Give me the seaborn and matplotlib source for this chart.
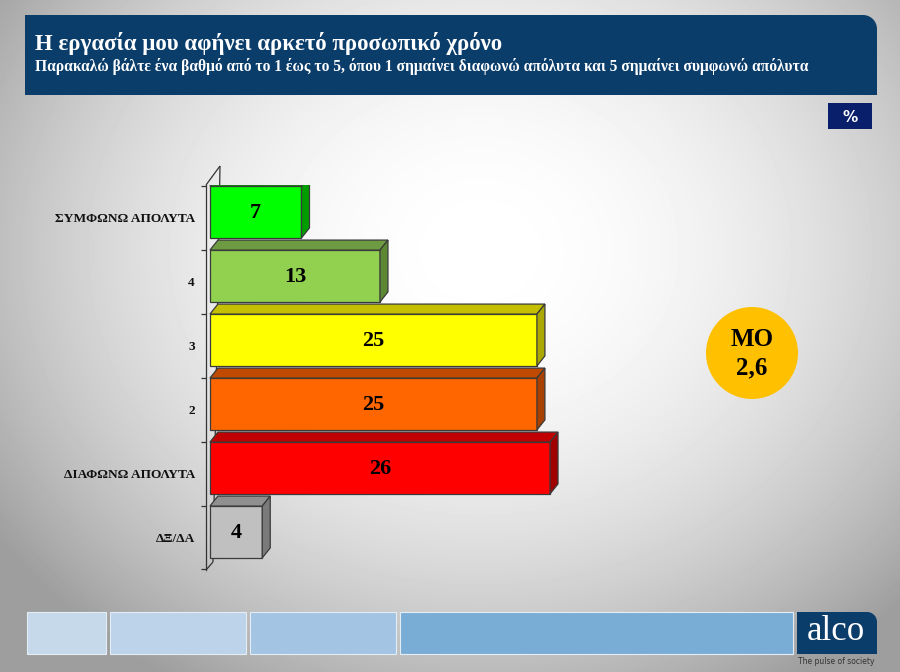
import numpy as np
import pandas as pd
import matplotlib
matplotlib.use("Agg")
import matplotlib.pyplot as plt
from matplotlib.patches import Polygon, Rectangle, Circle
from matplotlib.transforms import ScaledTranslation
import seaborn as sns

# ---------------- data ----------------
categories = ["ΣΥΜΦΩΝΩ ΑΠΟΛΥΤΑ", "4", "3", "2", "ΔΙΑΦΩΝΩ ΑΠΟΛΥΤΑ", "ΔΞ/ΔΑ"]
values = [7, 13, 25, 25, 26, 4]
front_colors = ["#00FF00", "#92D050", "#FFFF00", "#FF6600", "#FF0000", "#C0C0C0"]
top_colors = ["#00B800", "#6E9A42", "#C4C000", "#C04A00", "#C00000", "#909090"]
side_colors = ["#009C00", "#5C8733", "#ABA800", "#A84000", "#A00000", "#7A7A7A"]
title = "Η εργασία μου αφήνει αρκετό προσωπικό χρόνο"
subtitle = "Παρακαλώ βάλτε ένα βαθμό από το 1 έως το 5, όπου 1 σημαίνει διαφωνώ απόλυτα και 5 σημαίνει συμφωνώ απόλυτα"
mean_label = "ΜΟ\n2,6"
unit_label = "%"

sns.set_theme(style="white")
plt.rcParams["font.family"] = ["Liberation Serif", "DejaVu Serif"]
plt.rcParams["font.weight"] = "bold"

W, H = 900, 672
fig = plt.figure(figsize=(9, 6.72), dpi=100)

# ---------------- background (pixel coordinates, y down) ----------------
bg = fig.add_axes([0, 0, 1, 1], zorder=0)
yy, xx = np.mgrid[0:H, 0:W]
r2 = ((xx - 480) / 540.0) ** 2 + ((yy - 250) / 460.0) ** 2
grad = np.clip(1.0 - 0.32 * r2, 0.62, 1.0)
bg.imshow(grad, cmap="gray", vmin=0, vmax=1, extent=[0, W, H, 0], aspect="auto")
bg.set_xlim(0, W)
bg.set_ylim(H, 0)
bg.axis("off")


def rounded_tr_box(x0, y0, x1, y1, rad):
    th = np.linspace(np.pi / 2, 0, 20)
    arc = np.column_stack([x1 - rad + rad * np.cos(th), y0 + rad - rad * np.sin(th)])
    pts = np.vstack([[x0, y1], [x0, y0], arc, [x1, y1]])
    return pts


navy = "#0B3D6B"
bg.add_patch(Polygon(rounded_tr_box(25, 15, 877, 95, 14), closed=True,
                     facecolor=navy, edgecolor="none"))
bg.text(35, 50, title, color="white", fontsize=16.5, fontweight="bold", va="baseline", ha="left")
bg.text(35, 71, subtitle, color="white", fontsize=11.2, fontweight="bold", va="baseline", ha="left")

# % box
bg.add_patch(Rectangle((828, 103), 44, 26, facecolor="#0A1F6B", edgecolor="none"))
bg.text(850, 117, unit_label, color="white", fontsize=11, fontweight="bold",
        ha="center", va="center", family="DejaVu Sans")

# mean circle
bg.add_patch(Circle((752, 353), 46, facecolor="#FFC000", edgecolor="none"))
bg.text(752, 354, mean_label, color="black", fontsize=18, fontweight="bold",
        ha="center", va="center", linespacing=1.3)

# bottom strip
strip = [(27, 106, "#C5D9EA"), (110, 246, "#BDD3E9"), (250, 396, "#A3C5E3"), (400, 793, "#7AADD6")]
for x0, x1, c in strip:
    bg.add_patch(Rectangle((x0, 612), x1 - x0, 42, facecolor=c, edgecolor="#E4EDF5", lw=0.8))
bg.add_patch(Polygon(rounded_tr_box(797, 612, 877, 654, 10), closed=True,
                     facecolor=navy, edgecolor="none"))
bg.text(836, 631, "alco", color="white", fontsize=25, ha="center", va="center",
        fontweight="normal")
bg.text(836, 662, "The pulse of society", color="#333333", fontsize=5.5, ha="center",
        va="center", family="DejaVu Sans", fontweight="normal")

# wall (3D axis back line)
wall = dict(color="#333333", lw=0.9, solid_capstyle="butt")
bg.plot([206, 220], [185, 166], **wall)
bg.plot([220, 213], [166, 562], **wall)
bg.plot([206, 213], [570, 562], **wall)

# ---------------- bar chart ----------------
px_per_unit = 13.08
x_min, x_max = -0.3, 36
ax_left = 206
ax_top, ax_bot = 185, 570
ax = fig.add_axes([ax_left / W, 1 - ax_bot / H,
                   (x_max - x_min) * px_per_unit / W, (ax_bot - ax_top) / H], zorder=2)
ax.patch.set_alpha(0)

df = pd.DataFrame({"cat": categories, "val": values})
bar_h = 0.81
sns.barplot(data=df, x="val", y="cat", hue="cat", order=categories, hue_order=categories,
            palette=front_colors, legend=False, orient="h", width=bar_h, dodge=False,
            edgecolor="#3A3A3A", linewidth=0.9, saturation=1, ax=ax, zorder=3)

ax.set_xlim(x_min, x_max)
y_top = (ax_top - 212) / 64.0
y_bot = (ax_bot - 212) / 64.0
ax.set_ylim(y_bot, y_top)

dx = 8 / px_per_unit
dy = -10 / 64.0
patches = sorted(list(ax.patches), key=lambda p: p.get_y())
for i, p in enumerate(patches):
    x0 = p.get_x()
    x1 = x0 + p.get_width()
    yt = p.get_y()
    yb = yt + p.get_height()
    idx = int(round(yt + p.get_height() / 2))
    p.set_zorder(3 + i * 3)
    top = Polygon([(x0, yt), (x0 + dx, yt + dy), (x1 + dx, yt + dy), (x1, yt)], closed=True,
                  facecolor=top_colors[idx], edgecolor="#3A3A3A", lw=0.9, zorder=3 + i * 3 + 1)
    side = Polygon([(x1, yt), (x1 + dx, yt + dy), (x1 + dx, yb + dy), (x1, yb)], closed=True,
                   facecolor=side_colors[idx], edgecolor="#3A3A3A", lw=0.9, zorder=3 + i * 3 + 1)
    ax.add_patch(top)
    ax.add_patch(side)
    ax.text((x0 + x1) / 2, (yt + yb) / 2 + 0.02, f"{values[idx]}", ha="center", va="center",
            fontsize=16, fontweight="bold", color="black", zorder=3 + i * 3 + 2)

for s in ["top", "right", "bottom"]:
    ax.spines[s].set_visible(False)
ax.spines["left"].set_color("#333333")
ax.spines["left"].set_linewidth(0.9)
ax.set_xticks([])
ax.set_xlabel("")
ax.set_ylabel("")
ax.set_yticks(range(len(categories)))
ax.set_yticklabels(categories, fontsize=9.6, fontweight="bold", color="#111111")
ax.tick_params(axis="y", which="major", length=0, pad=8)
ax.set_yticks([i - 0.41 for i in range(len(categories))] + [len(categories) - 0.42], minor=True)
ax.tick_params(axis="y", which="minor", length=3.5, width=0.9, color="#333333", left=True)
off = ScaledTranslation(0, -6 / 100, fig.dpi_scale_trans)
for lab in ax.get_yticklabels():
    lab.set_transform(lab.get_transform() + off)

fig.savefig("out.png", dpi=100)
